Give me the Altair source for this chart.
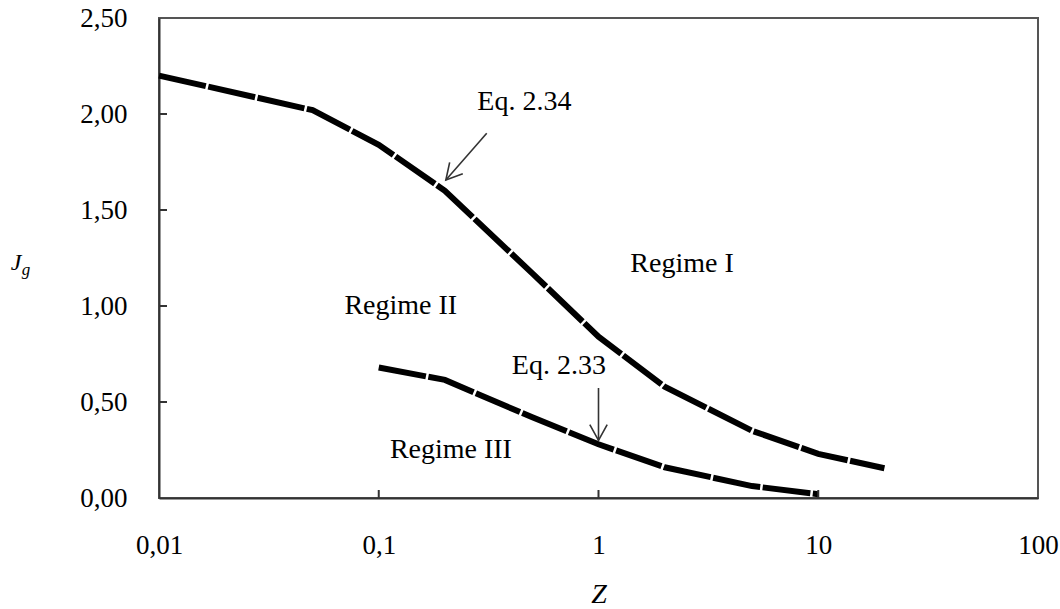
import altair as alt
import pandas as pd

# ---- data ----
z_eq234 = [0.01, 0.05, 0.1, 0.2, 0.5, 1, 2, 5, 10, 20]
jg_eq234 = [2.20, 2.02, 1.84, 1.60, 1.17, 0.84, 0.58, 0.35, 0.23, 0.155]

z_eq233 = [0.1, 0.2, 0.5, 1, 2, 5, 10]
jg_eq233 = [0.68, 0.615, 0.42, 0.28, 0.16, 0.062, 0.02]

ann_text = ["Eq. 2.34", "Eq. 2.33", "Regime I", "Regime II", "Regime III"]
ann_z = [0.46, 0.66, 2.4, 0.126, 0.213]
ann_j = [2.06, 0.69, 1.22, 1.00, 0.25]

arrow_z_tail = [0.31, 1.0]
arrow_j_tail = [1.90, 0.573]
arrow_z_tip = [0.202, 1.0]
arrow_j_tip = [1.656, 0.30]
arrow_angle = [41, 0]

x_ticks = [0.01, 0.1, 1, 10, 100]
y_ticks = [0.0, 0.5, 1.0, 1.5, 2.0, 2.5]

W, H = 879, 480
FONT = "Liberation Serif"

curves = pd.DataFrame({
    "Z": z_eq234 + z_eq233,
    "J": jg_eq234 + jg_eq233,
    "series": ["Eq. 2.34"] * len(z_eq234) + ["Eq. 2.33"] * len(z_eq233),
})
ann = pd.DataFrame({"Z": ann_z, "J": ann_j, "text": ann_text})
arrows = pd.DataFrame({
    "Z": arrow_z_tail, "J": arrow_j_tail,
    "Z2": arrow_z_tip, "J2": arrow_j_tip,
    "tipZ": arrow_z_tip, "tipJ": arrow_j_tip, "angle": arrow_angle,
})
xt = pd.DataFrame({"Z": [v for v in x_ticks[1:-1]]})
yt = pd.DataFrame({"J": [v for v in y_ticks[1:-1]]})

xscale = alt.Scale(type="log", domain=[0.01, 100], nice=False)
yscale = alt.Scale(domain=[0, 2.5], nice=False, zero=False)

xaxis = alt.Axis(
    values=x_ticks, labelExpr="replace(format(datum.value, '~g'), '.', ',')",
    grid=False, tickSize=0, labelPadding=34, labelFont=FONT, labelFontSize=27,
    labelFlush=False, labelOverlap=False,
    labelColor="black", domainColor="#333", domainWidth=2,
    titleFont=FONT, titleFontSize=28, titleFontStyle="italic", titleFontWeight="normal",
    titleColor="black", titlePadding=22,
)
yaxis = alt.Axis(
    values=y_ticks, labelExpr="replace(format(datum.value, '.2f'), '.', ',')",
    grid=False, tickSize=0, labelPadding=32, labelFont=FONT, labelFontSize=27,
    labelFlush=False, labelOverlap=False,
    labelColor="black", domainColor="#333", domainWidth=2, title=None,
)

X = alt.X("Z:Q", scale=xscale, axis=xaxis, title="Z")
Y = alt.Y("J:Q", scale=yscale, axis=yaxis)

lines = alt.Chart(curves).mark_line(
    color="black", strokeWidth=6, strokeDash=[48, 2.5], strokeCap="butt"
).encode(x=X, y=Y, detail="series:N", order="Z:Q")

texts = alt.Chart(ann).mark_text(
    font=FONT, fontSize=28, color="black", align="center", baseline="middle"
).encode(x=X, y=Y, text="text:N")

arrow_lines = alt.Chart(arrows).mark_rule(color="#333", strokeWidth=1.6).encode(
    x=X, y=Y, x2="Z2:Q", y2="J2:Q"
)
arrow_heads = alt.Chart(arrows).mark_point(
    shape="M -0.55 -1 L 0 0 L 0.55 -1", filled=False, size=1000,
    color="#333", strokeWidth=1.6, opacity=1
).encode(
    x=alt.X("tipZ:Q", scale=xscale, axis=xaxis, title="Z"),
    y=alt.Y("tipJ:Q", scale=yscale, axis=yaxis),
    angle=alt.Angle("angle:Q", scale=None),
)

xtick_marks = alt.Chart(xt).mark_rule(color="#333", strokeWidth=2).encode(
    x=X, y=alt.value(H), y2=alt.value(H - 8)
)
ytick_marks = alt.Chart(yt).mark_rule(color="#333", strokeWidth=2).encode(
    y=Y, x=alt.value(0), x2=alt.value(8)
)

jlabel = alt.Chart(pd.DataFrame({"t": ["J"]})).mark_text(
    font=FONT, fontSize=24, fontStyle="italic", color="black", align="center", baseline="middle"
).encode(text="t:N", x=alt.value(-143), y=alt.value(245))
glabel = alt.Chart(pd.DataFrame({"t": ["g"]})).mark_text(
    font=FONT, fontSize=17, fontStyle="italic", color="black", align="center", baseline="middle"
).encode(text="t:N", x=alt.value(-133), y=alt.value(252))

chart = alt.layer(
    lines, arrow_lines, arrow_heads, texts, xtick_marks, ytick_marks, jlabel, glabel
).properties(
    width=W, height=H,
    autosize=alt.AutoSizeParams(type="none"),
    padding={"left": 159, "top": 18, "right": 22, "bottom": 111},
    background="white",
).configure_view(stroke="#555", strokeWidth=2)

chart.save("out.html", embed_options={"renderer": "svg", "actions": False})
